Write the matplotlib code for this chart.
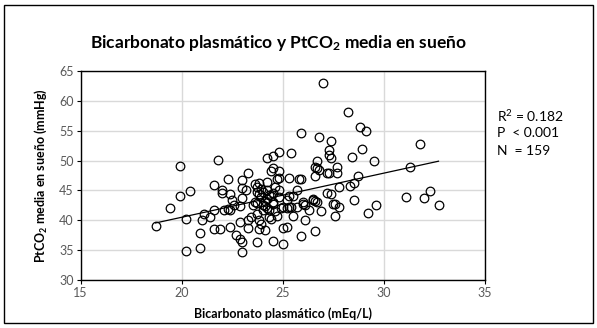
import matplotlib
matplotlib.use('Agg')
import matplotlib.pyplot as plt
from matplotlib.patches import Rectangle
import numpy as np

plt.rcParams['font.family'] = ['Lato', 'DejaVu Sans']
plt.rcParams['mathtext.default'] = 'regular'

# bicarbonato plasmático (mEq/L)
bicarb = [
    18.7, 19.4, 19.9, 19.9, 20.4, 20.2, 20.2, 20.9, 20.9, 21.0,
    21.1, 21.4, 21.6, 21.9, 21.6, 21.6, 21.8, 22.0, 22.0, 22.3,
    22.4, 22.5, 22.1, 22.3, 22.4, 22.4, 22.6,
    22.7, 22.9, 23.0, 23.0, 22.9, 22.9, 23.0, 23.0, 23.0, 23.3,
    23.2, 23.3, 23.3, 23.4, 23.5, 23.6, 23.6, 23.7, 23.8, 23.7,
    23.8, 23.9, 23.7, 23.8, 23.9, 23.8, 23.7, 23.7,
    24.1, 24.1, 24.2, 24.3, 24.3, 24.4, 24.2, 24.3, 24.2, 24.4,
    24.5, 24.2, 24.5, 24.8, 24.8, 24.7, 24.8, 24.8, 24.5, 24.4,
    24.5, 24.5, 24.8, 24.5, 24.0, 24.1, 24.0, 24.6, 24.7, 24.9,
    24.0, 24.2, 23.9, 24.6,
    25.0, 25.0, 25.2, 25.0, 25.2, 25.3, 25.3, 25.4, 25.7, 25.8,
    25.9, 25.5, 25.3, 25.2, 25.7, 25.4, 25.5, 25.9, 25.9,
    26.0, 26.1, 26.1, 26.3, 26.0, 26.5, 26.5, 26.6, 26.7, 26.6,
    26.6, 26.6, 26.7, 26.8, 26.7, 26.8, 26.9, 27.0, 27.2, 27.3,
    27.2, 27.4, 27.4, 27.3, 27.3, 27.4, 27.5, 27.6, 27.8, 27.6,
    27.7, 27.7, 27.8, 28.2, 28.3, 28.5, 28.4, 28.5, 28.7, 28.8,
    28.9, 29.1, 29.2, 29.5, 29.6, 31.1, 31.3, 31.8, 32.0, 32.3,
    32.7,
]

# PtCO2 media en sueño (mmHg)
ptco2 = [
    39.0, 42.0, 49.1, 44.0, 44.9, 40.2, 34.8, 35.3, 37.8, 40.0,
    41.0, 40.5, 38.5, 38.5, 41.7, 45.9, 50.1, 45.1, 44.5, 46.9,
    44.4, 43.4, 41.7, 41.9, 41.7, 38.9, 42.5,
    37.6, 36.9, 36.4, 34.7, 39.7, 42.4, 43.7, 45.4, 46.7, 47.9,
    45.1, 38.7, 40.1, 40.6, 42.6, 43.1, 46.0, 45.6, 46.2, 44.7,
    44.4, 43.9, 41.1, 40.1, 39.4, 38.6, 36.3, 42.9,
    38.4, 42.4, 42.0, 41.7, 40.6, 40.3, 45.1, 44.2, 46.4, 48.2,
    48.8, 50.4, 50.8, 51.4, 48.3, 46.9, 47.0, 45.0, 44.5, 44.0,
    42.8, 43.1, 43.9, 36.5, 41.8, 43.2, 44.8, 41.5, 40.8, 42.0,
    42.5, 43.5, 45.3, 45.5,
    36.1, 38.7, 38.9, 42.3, 42.0, 42.3, 47.0, 51.3, 45.0, 46.9,
    46.9, 44.0, 44.0, 43.4, 42.3, 42.3, 40.7, 37.4, 54.7,
    42.8, 40.1, 42.6, 41.7, 43.1, 43.4, 43.5, 43.3, 43.1, 38.2,
    47.4, 49.0, 48.7, 48.4, 49.9, 54.0, 41.5, 63.0, 47.9, 48.0,
    44.5, 44.4, 53.3, 51.8, 50.9, 50.5, 42.7, 42.7, 42.3, 40.7,
    49.0, 47.9, 45.6, 58.1, 45.8, 46.2, 50.6, 43.4, 47.4, 55.7,
    51.9, 55.0, 41.2, 49.9, 42.5, 43.9, 49.0, 52.7, 43.7, 44.9,
    42.6,
]

stats_lines = ['R$^2$ = 0.182', 'P  < 0.001', 'N  = 159']

x = np.array(bicarb)
y = np.array(ptco2)

fig = plt.figure(figsize=(5.97, 3.28), dpi=100)
ax = fig.add_axes([0.1352, 0.1463, 0.6772, 0.6372])

ax.plot(x, y, 'o', ms=6.2, mfc='none', mec='black', mew=0.9, zorder=3)

# recta de regresión lineal
slope, intercept = np.polyfit(x, y, 1)
xs = np.array([x.min(), x.max()])
ax.plot(xs, slope * xs + intercept, color='black', lw=0.9, zorder=2)

ax.set_xlim(15, 35)
ax.set_ylim(30, 65)
ax.set_xticks(range(15, 36, 5))
ax.set_yticks(range(30, 66, 5))
ax.grid(True, color='#d9d9d9', lw=1)
ax.set_axisbelow(True)
for sp in ax.spines.values():
    sp.set_color('black')
    sp.set_linewidth(1)
ax.tick_params(direction='out', length=3, width=0.8, color='black',
               labelsize=9, labelcolor='#595959', pad=2)

ax.set_xlabel('Bicarbonato plasmático (mEq/L)', fontsize=9, fontweight='bold', labelpad=6)
ax.set_ylabel('PtCO$_2$ media en sueño (mmHg)', fontsize=9, fontweight='bold', labelpad=7)

fig.text(0.466, 0.868, 'Bicarbonato plasmático y PtCO$_2$ media en sueño',
         ha='center', va='center', fontsize=12.5, fontweight='bold')

for i, line in enumerate(stats_lines):
    fig.text(0.833, 0.645 - i * 0.052, line, ha='left', va='center', fontsize=10)

fig.patches.append(Rectangle((0.006, 0.014), 0.988, 0.972, transform=fig.transFigure,
                             fill=False, edgecolor='black', lw=1))

fig.savefig('out.png', dpi=100)
